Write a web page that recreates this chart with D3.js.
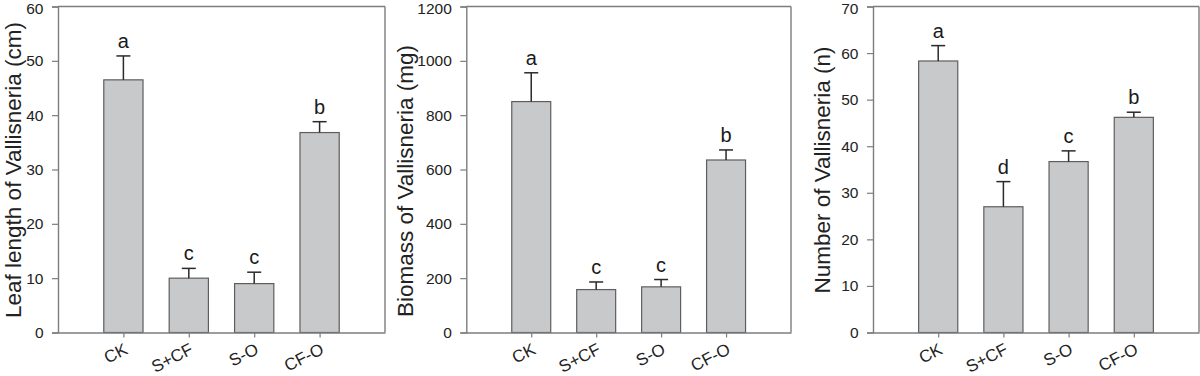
<!DOCTYPE html>
<html>
<head>
<meta charset="utf-8">
<script src="https://cdn.jsdelivr.net/npm/d3@7"></script>
<style>
  html, body { margin: 0; padding: 0; background: #fff; }
  svg { display: block; font-family: "Liberation Sans", Arial, sans-serif; }
</style>
</head>
<body>
<svg id="chart" width="1200" height="376"></svg>
<script>
// ---- data ----
const categories = ["CK", "S+CF", "S-O", "CF-O"];

const leafLength = [46.5, 10.0, 9.0, 36.8];
const leafLengthErr = [4.4, 1.8, 2.1, 2.0];
const leafLengthLetters = ["a", "c", "c", "b"];
const leafTicks = [0, 10, 20, 30, 40, 50, 60];

const biomass = [850, 158, 168, 635];
const biomassErr = [106, 28, 27, 37];
const biomassLetters = ["a", "c", "c", "b"];
const biomassTicks = [0, 200, 400, 600, 800, 1000, 1200];

const numberVals = [58.3, 27.0, 36.7, 46.2];
const numberErr = [3.3, 5.4, 2.3, 1.1];
const numberLetters = ["a", "d", "c", "b"];
const numberTicks = [0, 10, 20, 30, 40, 50, 60, 70];

const titles = ["Leaf length of Vallisneria (cm)", "Biomass of Vallisneria (mg)", "Number of Vallisneria (n)"];

// ---- layout ----
const panels = [
  { left: 58,    right: 385,  values: leafLength, errs: leafLengthErr, letters: leafLengthLetters, ticks: leafTicks, max: 60,   title: titles[0], titleX: 21,  titleY: 170 },
  { left: 466.3, right: 791,  values: biomass,    errs: biomassErr,    letters: biomassLetters,    ticks: biomassTicks, max: 1200, title: titles[1], titleX: 413, titleY: 181 },
  { left: 873,   right: 1199, values: numberVals, errs: numberErr,     letters: numberLetters,     ticks: numberTicks, max: 70,   title: titles[2], titleX: 830, titleY: 170 }
];
const plotTop = 6.5, plotBottom = 332.5;
const axisColor = "#7d7d7d";
const barFill = "#c8c9cb";
const barStroke = "#5e5e5e";

const svg = d3.select("#chart");

panels.forEach(p => {
  const x = d3.scalePoint().domain(categories).range([p.left, p.right]).padding(1);
  const y = d3.scaleLinear().domain([0, p.max]).range([plotBottom, plotTop]);
  const bw = x.step() * 0.6;
  const g = svg.append("g");

  // frame (top & right)
  g.append("line").attr("x1", p.left).attr("x2", p.right).attr("y1", plotTop).attr("y2", plotTop)
    .attr("stroke", axisColor).attr("stroke-width", 1.4);
  g.append("line").attr("x1", p.right).attr("x2", p.right).attr("y1", plotTop).attr("y2", plotBottom)
    .attr("stroke", axisColor).attr("stroke-width", 1.4);

  // bars
  g.selectAll("rect.bar").data(p.values).join("rect")
    .attr("class", "bar")
    .attr("x", (d, i) => x(categories[i]) - bw / 2)
    .attr("y", d => y(d))
    .attr("width", bw)
    .attr("height", d => y(0) - y(d))
    .attr("fill", barFill)
    .attr("stroke", barStroke)
    .attr("stroke-width", 1.2);

  // error bars
  const eg = g.selectAll("g.err").data(p.values).join("g").attr("class", "err");
  eg.append("line")
    .attr("x1", (d, i) => x(categories[i])).attr("x2", (d, i) => x(categories[i]))
    .attr("y1", d => y(d)).attr("y2", (d, i) => y(d + p.errs[i]))
    .attr("stroke", "#2a2a2a").attr("stroke-width", 1.5);
  eg.append("line")
    .attr("x1", (d, i) => x(categories[i]) - 7).attr("x2", (d, i) => x(categories[i]) + 7)
    .attr("y1", (d, i) => y(d + p.errs[i])).attr("y2", (d, i) => y(d + p.errs[i]))
    .attr("stroke", "#2a2a2a").attr("stroke-width", 1.5);

  // significance letters
  g.selectAll("text.letter").data(p.values).join("text")
    .attr("class", "letter")
    .attr("x", (d, i) => x(categories[i]))
    .attr("y", (d, i) => y(d + p.errs[i]) - 8)
    .attr("text-anchor", "middle")
    .attr("font-size", 20)
    .attr("fill", "#1a1a1a")
    .text((d, i) => p.letters[i]);

  // y axis
  const ya = g.append("g").attr("transform", `translate(${p.left},0)`)
    .call(d3.axisLeft(y).tickValues(p.ticks).tickSize(6).tickPadding(8.5).tickFormat(d3.format("d")));
  ya.select(".domain").attr("stroke", axisColor).attr("stroke-width", 1.4);
  ya.selectAll(".tick line").attr("stroke", axisColor).attr("stroke-width", 1.2);
  ya.selectAll(".tick text").attr("font-size", 15.5).attr("fill", "#222").attr("font-family", "Liberation Sans, Arial, sans-serif")
    .attr("dy", (d, i) => d === p.max ? "0.42em" : "0.32em");

  // x axis
  const xa = g.append("g").attr("transform", `translate(0,${plotBottom})`)
    .call(d3.axisBottom(x).tickSize(5).tickSizeOuter(0));
  xa.select(".domain").attr("stroke", axisColor).attr("stroke-width", 1.4);
  xa.selectAll(".tick line").attr("stroke", axisColor).attr("stroke-width", 1.2);
  xa.selectAll(".tick text")
    .attr("font-size", 17).attr("fill", "#222").attr("font-family", "Liberation Sans, Arial, sans-serif")
    .attr("text-anchor", "end")
    .attr("dy", null).attr("y", null)
    .attr("transform", "translate(5,20.5) rotate(-27)");

  // y title
  g.append("text")
    .attr("transform", `translate(${p.titleX},${p.titleY}) rotate(-90)`)
    .attr("text-anchor", "middle")
    .attr("font-size", 22.5)
    .attr("fill", "#222")
    .text(p.title);
});
</script>
</body>
</html>
